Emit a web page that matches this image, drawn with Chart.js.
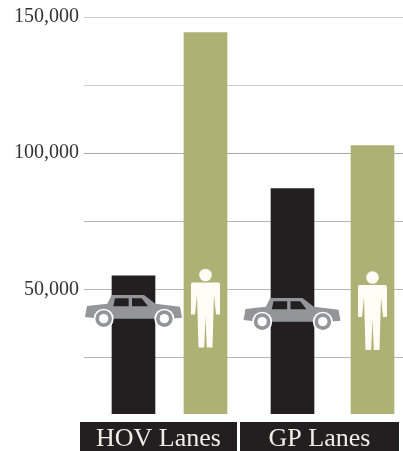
<!DOCTYPE html>
<html>
<head>
<meta charset="utf-8">
<style>
  html, body { margin: 0; padding: 0; background: #fff; overflow: hidden; }
  canvas { display: block; }
</style>
<script src="https://cdn.jsdelivr.net/npm/chart.js@4"></script>
</head>
<body>
<canvas id="chart" width="403" height="451"></canvas>
<script>
const categories = ['HOV Lanes', 'GP Lanes'];
const vehicleValues = [55000, 87000];
const peopleValues = [144300, 102800];
const tickValues = [25000, 50000, 75000, 100000, 125000, 150000];
const tickLabels = ['', '50,000', '', '100,000', '', '150,000'];

// the bars are not evenly spaced in the original, so x is a plain linear axis
const vehicleSlots = [49.5, 208.5];
const peopleSlots = [121.5, 288.5];

const darkColor = '#231f20';
const greenColor = '#adb174';

function drawCar(ctx, cx, top) {
    ctx.save();
    ctx.translate(cx - 48.5, top);
    ctx.scale(1 / 3, 1 / 3);
    ctx.translate(-255, -137);
    ctx.fillStyle = '#939598';
    ctx.beginPath();
    ctx.moveTo(261, 170);
    ctx.lineTo(322, 163);
    ctx.lineTo(335, 137);
    ctx.lineTo(432, 137);
    ctx.lineTo(466, 163);
    ctx.lineTo(540, 172);
    ctx.lineTo(546, 205);
    ctx.lineTo(510, 208);
    ctx.lineTo(300, 208);
    ctx.lineTo(255, 203);
    ctx.closePath();
    ctx.fill();
    ctx.fillStyle = darkColor;
    ctx.beginPath();
    ctx.moveTo(345, 147);
    ctx.lineTo(386, 147);
    ctx.lineTo(386, 171);
    ctx.lineTo(340, 171);
    ctx.closePath();
    ctx.moveTo(396, 147);
    ctx.lineTo(425, 147);
    ctx.lineTo(444, 171);
    ctx.lineTo(396, 171);
    ctx.closePath();
    ctx.fill();
    [311, 493].forEach(wx => {
        ctx.fillStyle = '#fff';
        ctx.beginPath();
        ctx.arc(wx, 208, 30, 0, Math.PI * 2);
        ctx.fill();
        ctx.fillStyle = '#939598';
        ctx.beginPath();
        ctx.arc(wx, 208, 25, 0, Math.PI * 2);
        ctx.fill();
        ctx.fillStyle = '#fff';
        ctx.beginPath();
        ctx.arc(wx, 208, 14, 0, Math.PI * 2);
        ctx.fill();
    });
    ctx.restore();
}

function drawPerson(ctx, cx, top) {
    ctx.save();
    ctx.translate(cx, top);
    ctx.fillStyle = '#fffcf5';
    ctx.beginPath();
    ctx.arc(0, 6.5, 6.3, 0, Math.PI * 2);
    ctx.fill();
    ctx.beginPath();
    ctx.moveTo(-13, 14);
    ctx.lineTo(13, 14);
    ctx.quadraticCurveTo(14.5, 14, 14.5, 16);
    ctx.lineTo(14.5, 46);
    ctx.lineTo(10.5, 46);
    ctx.lineTo(8.5, 26);
    ctx.lineTo(7, 79);
    ctx.lineTo(1.3, 79);
    ctx.lineTo(0, 48);
    ctx.lineTo(-1.3, 79);
    ctx.lineTo(-7, 79);
    ctx.lineTo(-8.5, 26);
    ctx.lineTo(-10.5, 46);
    ctx.lineTo(-14.5, 46);
    ctx.lineTo(-14.5, 16);
    ctx.quadraticCurveTo(-14.5, 14, -13, 14);
    ctx.closePath();
    ctx.fill();
    ctx.restore();
}

const overlayPlugin = {
    id: 'overlay',
    afterDraw(chart) {
        const ctx = chart.ctx;
        const x = chart.scales.x;

        drawCar(ctx, x.getPixelForValue(vehicleSlots[0]), 295);
        drawCar(ctx, x.getPixelForValue(vehicleSlots[1]) - 0.5, 298);
        drawPerson(ctx, x.getPixelForValue(peopleSlots[0]), 268.5);
        drawPerson(ctx, x.getPixelForValue(peopleSlots[1]), 271);

        // category strips below the plot
        const strips = [[80, 157], [240, 159]];
        strips.forEach((s, i) => {
            ctx.fillStyle = darkColor;
            ctx.fillRect(s[0], 422, s[1], 29);
            ctx.fillStyle = '#f1eee6';
            ctx.font = '26px "Liberation Serif"';
            ctx.textAlign = 'center';
            ctx.textBaseline = 'alphabetic';
            ctx.fillText(categories[i], s[0] + s[1] / 2, 446);
        });
    }
};

new Chart(document.getElementById('chart'), {
    type: 'bar',
    data: {
        datasets: [
            {
                label: 'Vehicles',
                data: vehicleValues.map((v, i) => ({ x: vehicleSlots[i], y: v })),
                backgroundColor: darkColor,
                barThickness: 43,
                grouped: false
            },
            {
                label: 'People',
                data: peopleValues.map((v, i) => ({ x: peopleSlots[i], y: v })),
                backgroundColor: greenColor,
                barThickness: 43,
                grouped: false
            }
        ]
    },
    options: {
        responsive: false,
        animation: false,
        layout: { padding: { top: 17, bottom: 37, left: 0, right: 0 } },
        plugins: { legend: { display: false }, tooltip: { enabled: false } },
        scales: {
            x: {
                type: 'linear',
                display: false,
                offset: false,
                min: 0,
                max: 319
            },
            y: {
                min: 4228,
                max: 150000,
                afterFit(scale) { scale.width = 84; },
                afterBuildTicks(scale) {
                    scale.ticks = tickValues.map(v => ({ value: v }));
                },
                border: { display: false },
                grid: {
                    drawTicks: false,
                    lineWidth: 1,
                    color: ctx => (ctx.index === 3 ? '#aaaaaa' : ctx.index > 3 ? '#cccccc' : '#b8b8b8')
                },
                ticks: {
                    autoSkip: false,
                    padding: 5,
                    labelOffset: 0,
                    color: '#333',
                    font: { family: '"Liberation Serif"', size: 20 },
                    callback(value) {
                        return tickLabels[tickValues.indexOf(value)];
                    }
                }
            }
        }
    },
    plugins: [overlayPlugin]
});
</script>
</body>
</html>
